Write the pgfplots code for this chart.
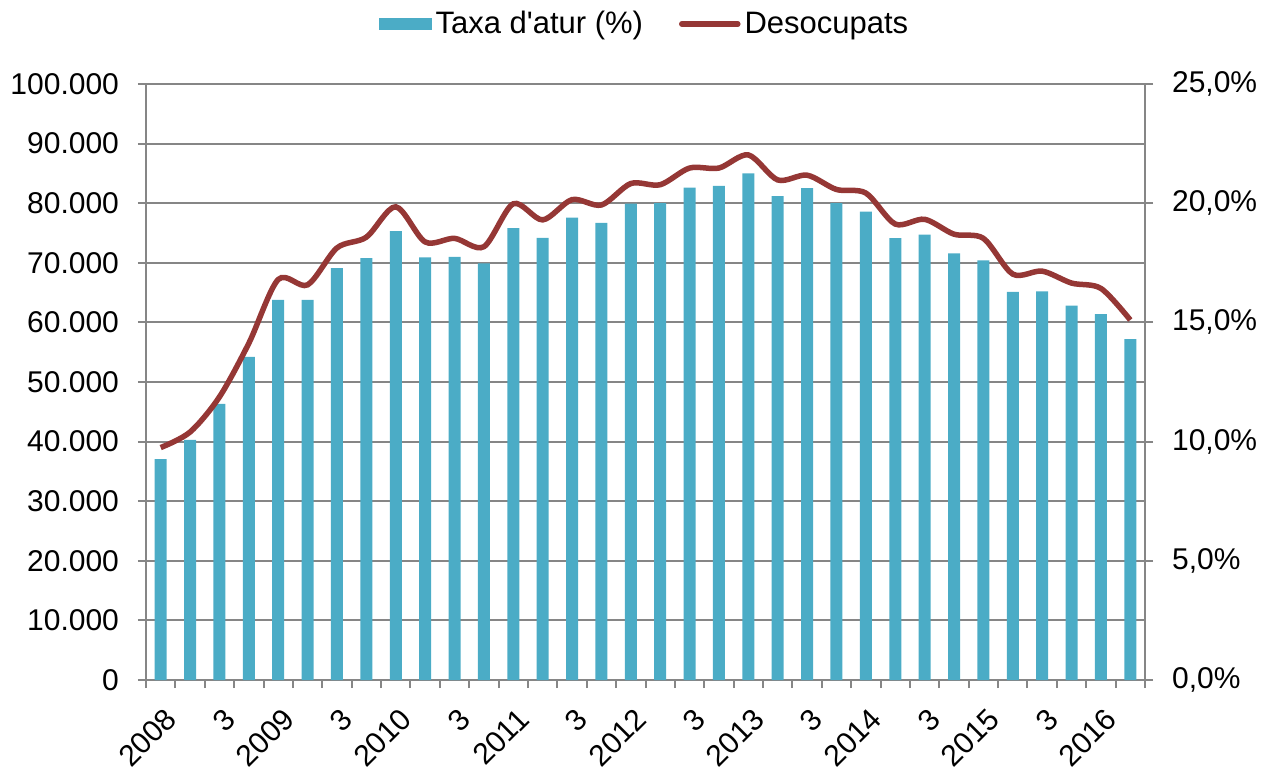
\documentclass[border=0pt]{standalone}
\usepackage{pgfplots}
\pgfplotsset{compat=1.18}
\usepackage{fontspec}
\setmainfont{Liberation Sans}[Ligatures=TeXOff]

\definecolor{barcol}{HTML}{4BACC6}
\definecolor{linecol}{HTML}{953735}
\definecolor{gridcol}{HTML}{868686}

% quarters 2008 Q1 .. 2016 Q2, x = 0..33
\pgfplotstableread{
x rate
0 9.27
1 10.07
2 11.58
3 13.55
4 15.95
5 15.95
6 17.28
7 17.70
8 18.83
9 17.73
10 17.75
11 17.48
12 18.95
13 18.55
14 19.40
15 19.18
16 19.98
17 20.00
18 20.65
19 20.73
20 21.25
21 20.30
22 20.63
23 20.00
24 19.65
25 18.53
26 18.68
27 17.90
28 17.60
29 16.28
30 16.30
31 15.70
32 15.35
33 14.30
}\ratetable

\pgfplotstableread{
x unemployed
0 39000
1 41600
2 47500
3 56500
4 67200
5 66300
6 72500
7 74300
8 79400
9 73500
10 74100
11 72700
12 79900
13 77200
14 80600
15 79700
16 83300
17 83100
18 85900
19 85900
20 88100
21 83900
22 84700
23 82300
24 81700
25 76500
26 77300
27 74800
28 74100
29 68100
30 68600
31 66600
32 65700
33 60400
}\unemptable

\pgfplotsset{
    common/.style={
        scale only axis,
        width=499.5pt,
        height=298pt,
        xmin=-0.5, xmax=33.5,
        tick align=outside,
        major tick length=4pt,
        minor tick length=4pt,
        every tick/.style={gridcol, line width=1pt},
        axis line style={gridcol, line width=1pt},
        tick label style={font=\fontsize{15}{18}\selectfont},
        /pgf/number format/assume math mode=true,
        scaled ticks=false,
    },
}

\begin{document}
\begin{tikzpicture}
    % bars, right axis (%)
    \begin{axis}[
            common,
            ymin=0, ymax=25,
            axis y line*=right,
            axis x line*=bottom,
            ytick={0,5,...,25},
            minor ytick={2.5,7.5,...,22.5},
            ymajorgrids, yminorgrids,
            major grid style={gridcol, line width=1pt},
            minor grid style={gridcol, line width=1pt},
            yticklabel={\pgfmathprintnumber[fixed,fixed zerofill,precision=1,use comma]{\tick}\%},
            yticklabel style={xshift=6pt},
            y tick style={/pgfplots/minor tick length=0pt},
            xtick={0,2,...,32},
            xticklabels={2008,3,2009,3,2010,3,2011,3,2012,3,2013,3,2014,3,2015,3,2016},
            x tick style={/pgfplots/major tick length=0pt},
            minor xtick={-0.5,0.5,...,33.5},
            x tick label style={rotate=45, anchor=north east, xshift=-2pt, yshift=-4pt},
            clip=false,
        ]
        \addplot[ybar, bar width=6pt, fill=barcol, draw=none] table[x=x, y=rate] {\ratetable};
    \end{axis}

    % line, left axis (count)
    \begin{axis}[
            common,
            ymin=0, ymax=100000,
            axis y line*=left,
            axis x line=none,
            ytick={0,10000,...,100000},
            yticklabel style={xshift=-6pt, /pgf/number format/.cd, fixed, 1000 sep={.}},
            legend style={
                    at={(0.5,1)}, anchor=center, yshift=30pt,
                    draw=none, fill=none,
                    legend columns=-1,
                    font=\fontsize{15.5}{18}\selectfont,
                    /tikz/every even column/.append style={column sep=16pt},
                    inner sep=0pt,
                },
            clip=false,
        ]
        \addlegendimage{legend image code/.code={\fill[barcol] (0pt,-2.75pt) rectangle (26pt,2.75pt);}}
        \addlegendentry{Taxa d'atur (\%)}
        \addplot[linecol, line width=2.75pt, smooth, tension=0.5,
            legend image code/.code={\draw[linecol, line width=2.75pt, line cap=round] (0pt,0pt) -- (28pt,0pt);}]
            table[x=x, y=unemployed] {\unemptable};
        \addlegendentry{Desocupats}
    \end{axis}

    \pgfresetboundingbox
    \path[use as bounding box] ([xshift=-73pt,yshift=-45.5pt]current axis.south west)
        rectangle ([xshift=61.5pt,yshift=42pt]current axis.north east);
\end{tikzpicture}
\end{document}
